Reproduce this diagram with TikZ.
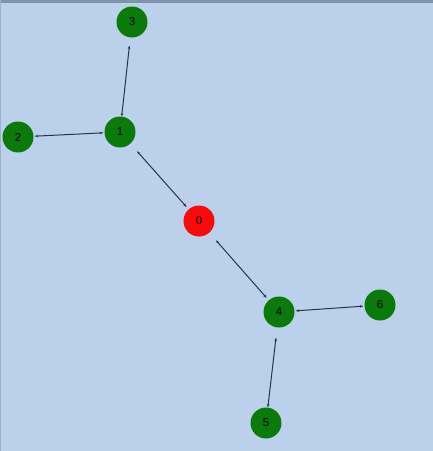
\documentclass[tikz,border=0pt]{standalone}
\usepackage{fontspec}
\setmainfont{Liberation Sans}
\usetikzlibrary{arrows.meta}
\definecolor{bg}{HTML}{BBD0EA}
\definecolor{topline}{HTML}{7F93AB}
\definecolor{leftline}{HTML}{9FB2CA}
\definecolor{gnode}{HTML}{0A7A0A}
\definecolor{rnode}{HTML}{FA0A0A}
\definecolor{edgec}{HTML}{2A3448}
\tikzset{
  vert/.style={circle, minimum size=31pt, inner sep=0pt, font=\fontsize{11.5}{11.5}\selectfont, text=black},
  gvert/.style={vert, fill=gnode},
  rvert/.style={vert, fill=rnode},
  link/.style={draw=edgec, line width=1pt, {Stealth[length=3.5pt,width=2.5pt]}-{Stealth[length=3.5pt,width=2.5pt]}}
}
\begin{document}
\begin{tikzpicture}[x=1pt,y=-1pt]
\fill[bg] (0,0) rectangle (433,451);
\useasboundingbox (0,0) rectangle (433,451);
\fill[topline] (0,0) rectangle (433,2.5);
\fill[leftline] (0,0) rectangle (1.2,451);
\node[rvert] (n0) at (199,221) {0};
\node[gvert] (n1) at (120,132) {1};
\node[gvert] (n2) at (18,137) {2};
\node[gvert] (n3) at (132,22) {3};
\node[gvert] (n4) at (279,312) {4};
\node[gvert] (n5) at (266,423) {5};
\node[gvert] (n6) at (380,305) {6};
\draw[link, shorten <=0pt, shorten >=8pt] (n1) -- (n3);
\draw[link, shorten <=1pt, shorten >=1pt] (n1) -- (n2);
\draw[link, shorten <=10pt, shorten >=3pt] (n1) -- (n0);
\draw[link, shorten <=10pt, shorten >=3pt] (n0) -- (n4);
\draw[link, shorten <=1pt, shorten >=1pt] (n4) -- (n6);
\draw[link, shorten <=0pt, shorten >=10pt] (n5) -- (n4);
\end{tikzpicture}
\end{document}
